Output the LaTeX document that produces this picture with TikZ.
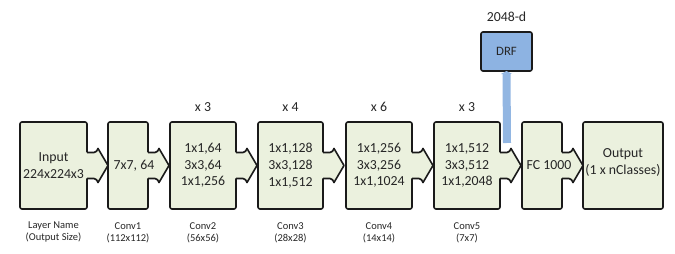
\documentclass[tikz,border=0pt]{standalone}
\usepackage{fontspec}
\setmainfont{Carlito}
\usetikzlibrary{positioning,arrows.meta}
\definecolor{layerfill}{HTML}{EBF1DE}
\definecolor{drffill}{HTML}{8DB3E2}
\definecolor{featblue}{HTML}{92B6E2}
\definecolor{edgegray}{HTML}{1A1A1A}
\tikzset{
  layernode/.style={draw=edgegray, line width=1.6pt, rounded corners=2pt, fill=layerfill, minimum height=87pt, inner sep=0pt, outer sep=0pt, align=center, text=black!85, font=\fontsize{13.8}{16.7}\selectfont},
  layertext/.style={inner sep=0pt, align=center, text=black!85, font=\fontsize{13.8}{16.7}\selectfont},
  drfnode/.style={draw=edgegray, line width=1.6pt, rounded corners=2pt, fill=drffill, minimum width=51pt, minimum height=39pt, inner sep=0pt, outer sep=0pt, text=black!85, font=\fontsize{12.8}{15}\selectfont},
  calloutline/.style={draw=edgegray, line width=1.6pt, line join=round},
  repeatlabel/.style={inner sep=0pt, text=black!85, font=\fontsize{13.8}{16.7}\selectfont},
  sizelabel/.style={inner sep=0pt, align=center, text=black!85, font=\fontsize{10.5}{12}\selectfont},
  featarrow/.style={-{Triangle[length=3pt, width=11pt]}, line width=8pt, draw=featblue}
}

\begin{document}
\begin{tikzpicture}[x=1pt, y=1pt]
  \useasboundingbox (0,0) rectangle (675,254);
  % layer blocks
  \node[layernode, minimum width=67] (input) at (53.5,88.5) {Input\\224x224x3};
  \node[layernode, minimum width=40] (conv1) at (128,88.5) {};
  \node[layernode, minimum width=66] (conv2) at (203,88.5) {1x1,64\\3x3,64\\1x1,256};
  \node[layernode, minimum width=65] (conv3) at (290.5,88.5) {1x1,128\\3x3,128\\1x1,512};
  \node[layernode, minimum width=66] (conv4) at (379,88.5) {1x1,256\\3x3,256\\1x1,1024};
  \node[layernode, minimum width=66] (conv5) at (467,88.5) {1x1,512\\3x3,512\\1x1,2048};
  \node[layernode, minimum width=40] (fc) at (542,88.5) {};
  \node[layernode, minimum width=80] (output) at (623,88.5) {};

  % arrow part of each block
  \foreach \n in {input,conv1,conv2,conv3,conv4,conv5,fc} {
    \begin{scope}[shift={(\n.east)}]
      \fill[layerfill] (-1,13) -- (7,13) to[out=0,in=-115] (11,17) -- (21,0) -- (11,-17) to[out=115,in=0] (7,-13) -- (-1,-13) -- cycle;
      \draw[calloutline] (0,13) -- (7,13) to[out=0,in=-115] (11,17) -- (21,0) -- (11,-17) to[out=115,in=0] (7,-13) -- (0,-13);
    \end{scope}
  }
  \node[layertext] (conv1txt) at ([xshift=6]conv1.center) {7x7, 64};
  \node[layertext] (fctxt) at ([xshift=7]fc.center) {FC 1000};
  \node[layertext] (outputtxt) at ([yshift=3]output.center) {Output\\(1 x nClasses)};

  % repeats
  \node[repeatlabel, above=10pt of conv2] (conv2rep) {x 3};
  \node[repeatlabel, above=10pt of conv3] (conv3rep) {x 4};
  \node[repeatlabel, above=10pt of conv4] (conv4rep) {x 6};
  \node[repeatlabel, above=10pt of conv5] (conv5rep) {x 3};

  % names and output sizes
  \node[sizelabel, below=13pt of input] (inputsize) {Layer Name\\(Output Size)};
  \node[sizelabel, below=13pt of conv1] (conv1size) {Conv1\\(112x112)};
  \node[sizelabel, below=13pt of conv2] (conv2size) {Conv2\\(56x56)};
  \node[sizelabel, below=13pt of conv3] (conv3size) {Conv3\\(28x28)};
  \node[sizelabel, below=13pt of conv4] (conv4size) {Conv4\\(14x14)};
  \node[sizelabel, below=13pt of conv5] (conv5size) {Conv5\\(7x7)};

  % feature branch
  \node[drfnode] (drf) at (506.5,202.5) {DRF};
  \node[repeatlabel, above=10pt of drf] (drfdim) {2048-d};
  \coordinate (featbase) at (507,111);
  \draw[featarrow] (featbase) -- (drf.south);
\end{tikzpicture}
\end{document}
